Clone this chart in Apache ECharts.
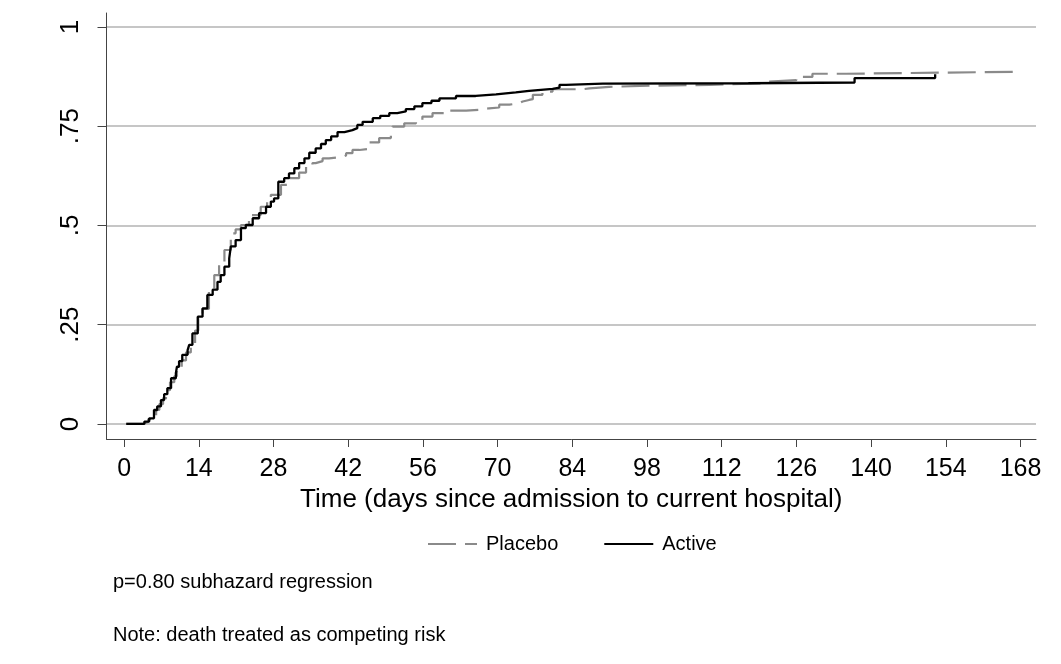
<!DOCTYPE html>
<html>
<head>
<meta charset="utf-8">
<title>Cumulative incidence</title>
<script src="https://cdn.jsdelivr.net/npm/echarts@6/dist/echarts.min.js"></script>
<style>
  html, body { margin: 0; padding: 0; background: #fff; }
  #chart { width: 1061px; height: 664px; }
</style>
</head>
<body>
<div id="chart"></div>
<script>
// Cumulative incidence step curves: [day, cumulative proportion], value jumps at each day
const placeboPoints = [
  [0.4, 0], [3.5, 0.005], [4.5, 0.012], [5.4, 0.02], [6.0, 0.035], [6.6, 0.05],
  [7.3, 0.065], [8.1, 0.085], [8.6, 0.105], [9.4, 0.12], [9.9, 0.14], [10.8, 0.16],
  [11.6, 0.18], [12.5, 0.2], [13.3, 0.235], [13.9, 0.275], [14.7, 0.29], [15.9, 0.333],
  [16.9, 0.375], [17.8, 0.409], [18.8, 0.438], [20.0, 0.48], [20.9, 0.49], [21.9, 0.501],
  [23.4, 0.526], [25.6, 0.547], [26.8, 0.564], [27.5, 0.577], [29.4, 0.602], [30.9, 0.619],
  [32.8, 0.633], [34.1, 0.648], [35.3, 0.657], [35.9, 0.662], [37.2, 0.669], [38.4, 0.672],
  [40.9, 0.676], [41.6, 0.682], [42.8, 0.69], [44.1, 0.693], [45.9, 0.709], [47.8, 0.72],
  [50.0, 0.728], [50.3, 0.749], [52.5, 0.757], [54.7, 0.766], [55.9, 0.774], [57.8, 0.783],
  [60.3, 0.789], [64.1, 0.791], [66.6, 0.795], [68.4, 0.797], [70.3, 0.804], [72.2, 0.808],
  [74.1, 0.812], [74.7, 0.816], [75.9, 0.818], [76.6, 0.829], [78.4, 0.837], [80.3, 0.843],
  [85.9, 0.845], [87.2, 0.849], [90.9, 0.852], [98.4, 0.854], [109.7, 0.858], [119.6, 0.862],
  [120.3, 0.866], [126.0, 0.874], [129.0, 0.882], [135.3, 0.887], [168.0, 0.887]
];

const activePoints = [
  [0.4, 0], [3.8, 0.006], [4.7, 0.014], [5.6, 0.035], [6.2, 0.044], [6.9, 0.06],
  [7.5, 0.075], [8.1, 0.09], [8.8, 0.115], [9.7, 0.128], [9.9, 0.144], [10.3, 0.158],
  [10.9, 0.174], [11.9, 0.186], [12.2, 0.199], [12.8, 0.228], [13.8, 0.27], [14.7, 0.291],
  [15.6, 0.325], [16.6, 0.338], [17.5, 0.358], [18.1, 0.375], [18.8, 0.396], [19.7, 0.417],
  [20.0, 0.447], [20.9, 0.463], [21.9, 0.493], [22.8, 0.501], [24.1, 0.518], [25.3, 0.531],
  [26.6, 0.547], [27.5, 0.56], [28.1, 0.568], [28.9, 0.61], [30.0, 0.619], [30.9, 0.631],
  [31.9, 0.644], [32.8, 0.657], [33.8, 0.669], [34.7, 0.683], [35.9, 0.694], [36.9, 0.705],
  [37.8, 0.715], [38.8, 0.724], [40.0, 0.735], [41.3, 0.74], [42.8, 0.745], [43.7, 0.753],
  [44.7, 0.761], [46.6, 0.77], [48.0, 0.776], [49.7, 0.783], [51.2, 0.787], [52.8, 0.793],
  [54.4, 0.8], [55.9, 0.808], [57.6, 0.814], [59.1, 0.82], [62.2, 0.826], [65.9, 0.83],
  [69.7, 0.835], [73.4, 0.839], [75.9, 0.844], [80.3, 0.847], [81.6, 0.854], [82.8, 0.857],
  [89.7, 0.858], [117.0, 0.86], [136.9, 0.871], [152.0, 0.881]
];

const seriesNames = ['Placebo', 'Active'];
const xTickValues = [0, 14, 28, 42, 56, 70, 84, 98, 112, 126, 140, 154, 168];
const yTickValues = [0, 0.25, 0.5, 0.75, 1];
const yTickLabels = ['0', '.25', '.5', '.75', '1'];
const xTitle = 'Time (days since admission to current hospital)';
const noteLines = ['p=0.80 subhazard regression', 'Note: death treated as competing risk'];

const FONT = '"Liberation Sans", Arial, Helvetica, sans-serif';

const chart = echarts.init(document.getElementById('chart'), null, { renderer: 'canvas' });

chart.setOption({
  backgroundColor: '#ffffff',
  animation: false,
  grid: { left: 106.5, right: 25, top: 13, bottom: 225, containLabel: false },
  xAxis: {
    type: 'value',
    min: -3.3,
    max: 170.9,
    name: xTitle,
    nameLocation: 'middle',
    nameGap: 43,
    nameTextStyle: { fontSize: 26, color: '#000', fontFamily: FONT },
    axisLine: { show: true, onZero: false, lineStyle: { color: '#444', width: 1 } },
    axisTick: { show: true, inside: false, length: 8, customValues: xTickValues,
      lineStyle: { color: '#444', width: 1 } },
    axisLabel: { show: true, customValues: xTickValues, margin: 18, fontSize: 25,
      color: '#000', fontFamily: FONT, formatter: v => String(v) },
    splitLine: { show: false }
  },
  yAxis: {
    type: 'value',
    min: -0.038,
    max: 1.035,
    axisLine: { show: true, onZero: false, lineStyle: { color: '#444', width: 1 } },
    axisTick: { show: true, inside: false, length: 9, customValues: yTickValues,
      lineStyle: { color: '#444', width: 1 } },
    axisLabel: {
      show: true, customValues: yTickValues, rotate: 90, margin: 23, fontSize: 26,
      color: '#000', fontFamily: FONT,
      formatter: v => {
        let best = 0;
        yTickValues.forEach((t, i) => { if (Math.abs(t - v) < Math.abs(yTickValues[best] - v)) best = i; });
        return yTickLabels[best];
      }
    },
    splitLine: { show: true, lineStyle: { color: '#c6c6c6', width: 1.8 } }
  },
  legend: {
    data: seriesNames,
    left: 427,
    top: 534,
    padding: 0,
    itemWidth: 49,
    itemHeight: 14,
    itemGap: 45,
    itemStyle: { opacity: 0 },
    textStyle: { fontSize: 20, color: '#000', fontFamily: FONT, padding: [0, 0, 0, 4] }
  },
  graphic: noteLines.map((t, i) => ({
    type: 'text',
    left: 113,
    top: i === 0 ? 572 : 625,
    silent: true,
    style: { text: t, fontSize: 20, fill: '#000', fontFamily: FONT }
  })),
  series: [
    {
      name: seriesNames[0],
      type: 'line',
      step: 'end',
      symbol: 'none',
      silent: true,
      data: placeboPoints,
      color: '#8a8a8a',
      lineStyle: { color: '#8a8a8a', width: 2.2, type: [28, 9] },
      z: 2
    },
    {
      name: seriesNames[1],
      type: 'line',
      step: 'end',
      symbol: 'none',
      silent: true,
      data: activePoints,
      color: '#000000',
      lineStyle: { color: '#000000', width: 2.3, type: 'solid' },
      z: 3
    }
  ]
});
</script>
</body>
</html>
